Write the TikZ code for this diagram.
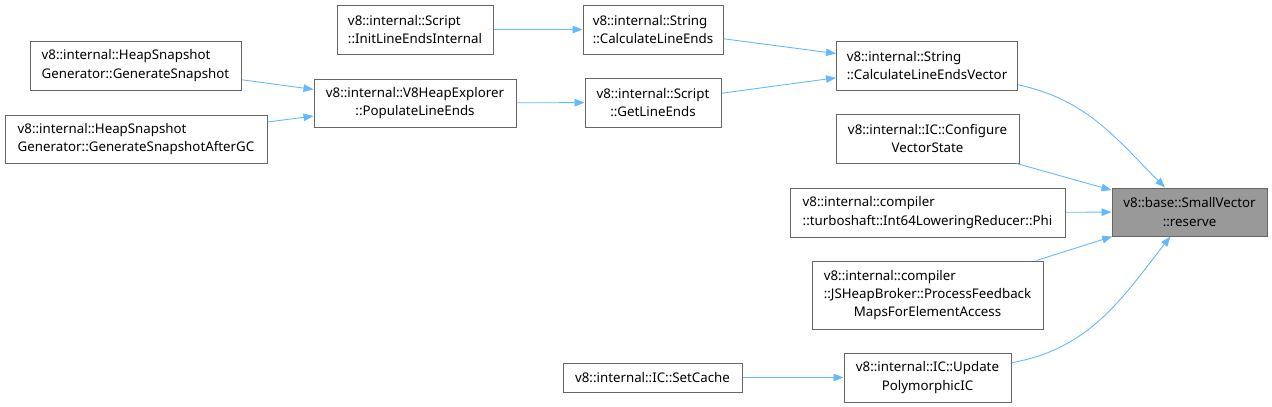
\documentclass[tikz,border=0pt]{standalone}
\usepackage{fontspec}
\setmainfont{Noto Sans}
\usetikzlibrary{arrows.meta}
\definecolor{edgeblue}{HTML}{63B8FF}
\definecolor{boxline}{HTML}{666666}
\definecolor{boxfill}{HTML}{999999}
\begin{document}
\begin{tikzpicture}[x=1pt,y=-1pt,
  box/.style={draw=boxline,line width=1pt,fill=white,inner sep=0pt,
    font=\fontsize{13.3}{18.3}\selectfont},
  lbox/.style={box,align=left},
  cbox/.style={box,align=center},
  edge/.style={draw=edgeblue,line width=0.9pt,-{Triangle[length=10pt,width=7.5pt]}}]
\useasboundingbox (0,0) rectangle (1272,407);
% nodes
\node[cbox,fill=boxfill,minimum width=155pt,minimum height=48pt] (res) at (1189.5,212) {v8::base::SmallVector\\::reserve};
\node[lbox,minimum width=181pt,minimum height=49pt] (cv) at (927,65.5) {v8::internal::String\\::CalculateLineEndsVector};
\node[cbox,minimum width=183pt,minimum height=49pt] (cfg) at (927.5,138.5) {v8::internal::IC::Configure\\VectorState};
\node[lbox,minimum width=275pt,minimum height=49pt] (phi) at (927.5,212.5) {v8::internal::compiler\\::turboshaft::Int64LoweringReducer::Phi};
\node[box,minimum width=231pt,minimum height=68pt] (brk) at (927.5,295) {\begin{tabular}{@{}l@{}}v8::internal::compiler\\::JSHeapBroker::ProcessFeedback\\\multicolumn{1}{@{}c@{}}{MapsForElementAccess}\end{tabular}};
\node[cbox,minimum width=167pt,minimum height=49pt] (upd) at (927.5,377.5) {v8::internal::IC::Update\\PolymorphicIC};
\node[cbox,minimum width=179pt,minimum height=29pt] (sc) at (652.5,377.5) {v8::internal::IC::SetCache};
\node[lbox,minimum width=140pt,minimum height=49pt] (cle) at (653,29.5) {v8::internal::String\\::CalculateLineEnds};
\node[cbox,minimum width=136pt,minimum height=49pt] (gle) at (653,102.5) {v8::internal::Script\\::GetLineEnds};
\node[lbox,minimum width=156pt,minimum height=49pt] (ile) at (415,29.5) {v8::internal::Script\\::InitLineEndsInternal};
\node[cbox,minimum width=202pt,minimum height=48pt] (ple) at (415,103) {v8::internal::V8HeapExplorer\\::PopulateLineEnds};
\node[lbox,minimum width=211pt,minimum height=49pt] (gs) at (135.5,65.5) {v8::internal::HeapSnapshot\\Generator::GenerateSnapshot};
\node[lbox,minimum width=262pt,minimum height=48pt] (gsa) at (136,139) {v8::internal::HeapSnapshot\\Generator::GenerateSnapshotAfterGC};
% edges
\draw[edge] (cv) to[out=-12,in=135] (res);
\draw[edge] (cfg) -- (res);
\draw[edge] (phi) -- (res);
\draw[edge] (brk) -- (res);
\draw[edge] (upd) to[out=10,in=232] (res);
\draw[edge] (sc) -- (upd);
\draw[edge] (cle) -- (cv);
\draw[edge] (gle) -- (cv);
\draw[edge] (ile) -- (cle);
\draw[edge] (ple) -- (gle);
\draw[edge] (gs) -- (ple);
\draw[edge] (gsa) -- (ple);
\end{tikzpicture}
\end{document}
